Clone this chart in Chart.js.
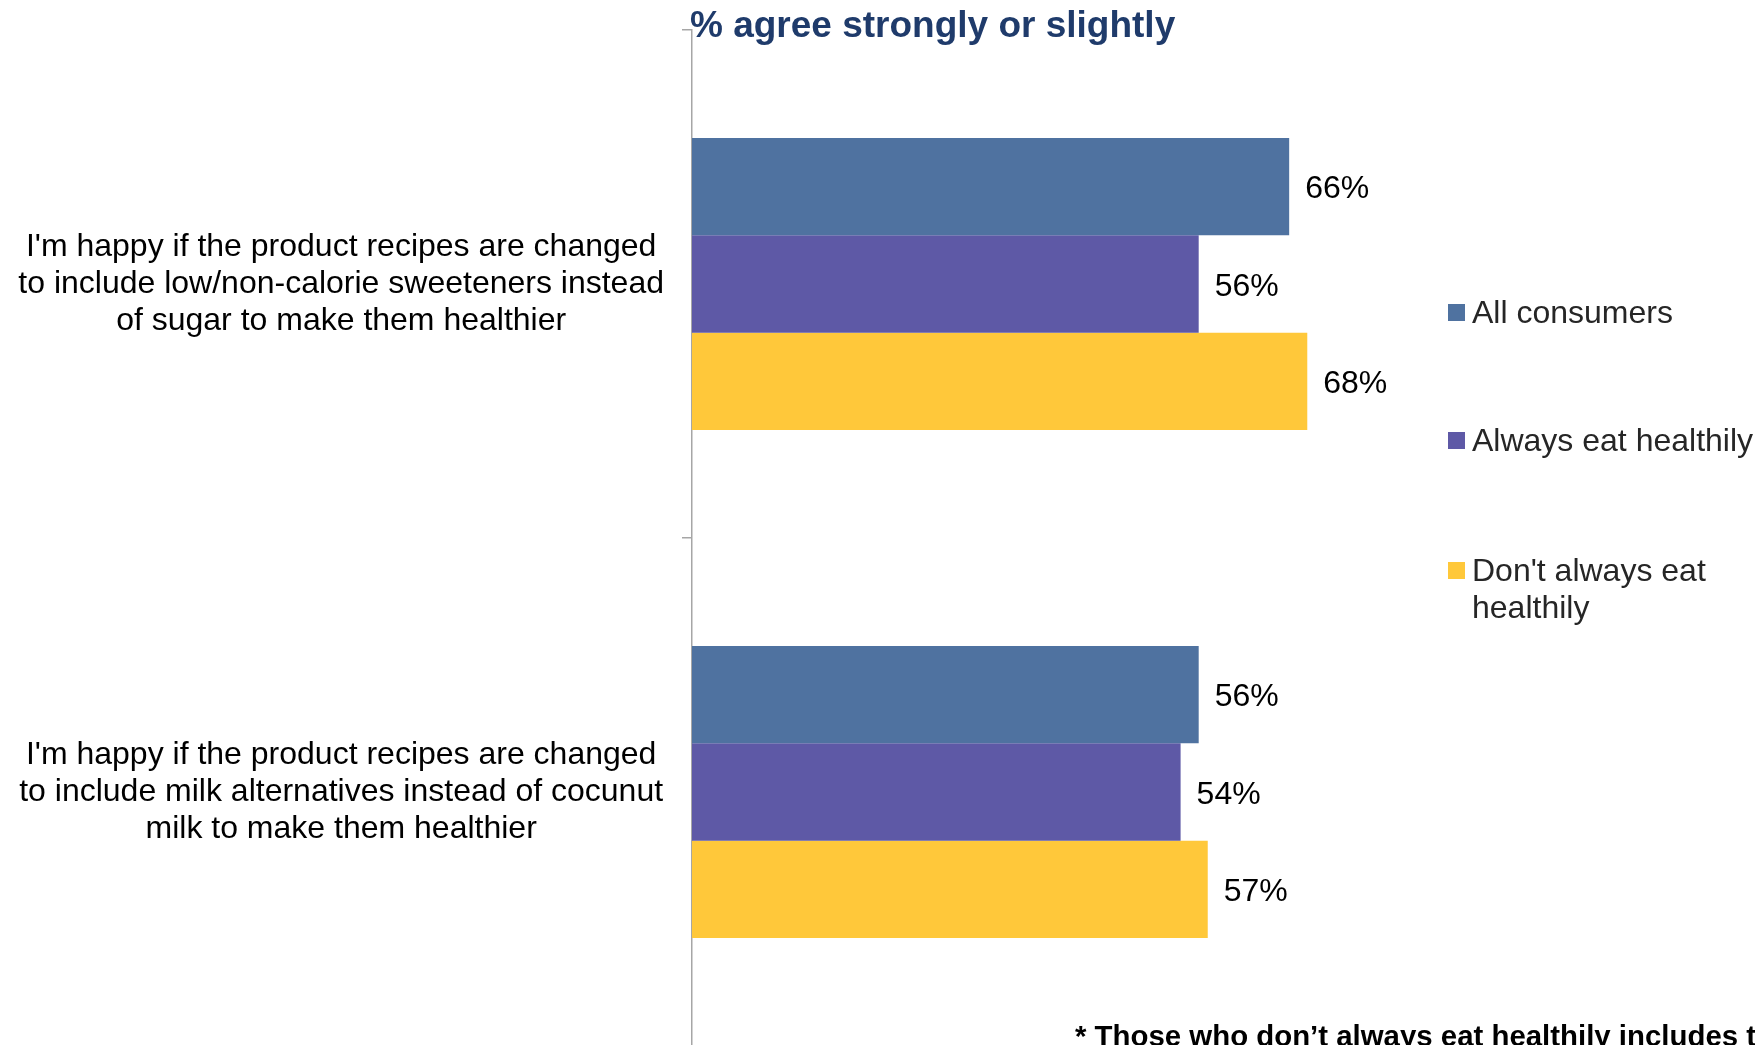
<!DOCTYPE html>
<html>
<head>
<meta charset="utf-8">
<script src="https://cdn.jsdelivr.net/npm/chart.js@4.4.1/dist/chart.umd.min.js"></script>
<style>
  html, body { margin:0; padding:0; background:#fff; overflow:hidden; }
  #wrap { position:relative; width:1755px; height:1045px; overflow:hidden; }
  #c { position:absolute; left:0; top:0; }
  .title { position:absolute; left:690px; top:6px; font:bold 37px "Liberation Sans", Arial, sans-serif; color:#1F3B6B; line-height:1; white-space:nowrap; }
  .note { position:absolute; left:1075px; top:1021px; font:bold 29.4px "Liberation Sans", Arial, sans-serif; color:#000; line-height:1; white-space:nowrap; }
  .leg { position:absolute; left:1448px; font:32px "Liberation Sans", Arial, sans-serif; color:#262626; line-height:37px; }
  .leg i { position:absolute; left:0; top:10px; width:17px; height:17px; }
  .leg span { display:block; margin-left:24px; white-space:nowrap; }
</style>
</head>
<body>
<div id="wrap">
  <canvas id="c" width="1755" height="1046"></canvas>
  <div class="title">% agree strongly or slightly</div>
  <div id="legend"></div>
  <div class="note">* Those who don’t always eat healthily includes those</div>
</div>
<script>
// ── Data ─────────────────────────────────────────────────────────────────────
const categories = [
  ["I'm happy if the product recipes are changed", "to include low/non-calorie sweeteners instead", "of sugar to make them healthier"],
  ["I'm happy if the product recipes are changed", "to include milk alternatives instead of cocunut", "milk to make them healthier"]
];
const seriesNames  = ['All consumers', 'Always eat healthily', ["Don't always eat", 'healthily']];
const seriesColors = ['#4F72A0', '#5E59A6', '#FFC83A'];
const allConsumers = [66, 56];
const alwaysHealthy = [56, 54];
const notAlways     = [68, 57];
const seriesValues  = [allConsumers, alwaysHealthy, notAlways];

// ── Legend (html) ────────────────────────────────────────────────────────────
const legTops = [294, 422, 552];
const legEl = document.getElementById('legend');
seriesNames.forEach((n, i) => {
  const d = document.createElement('div');
  d.className = 'leg';
  d.style.top = legTops[i] + 'px';
  const lines = Array.isArray(n) ? n : [n];
  d.innerHTML = `<i style="background:${seriesColors[i]}"></i>` + lines.map(l => `<span>${l}</span>`).join('');
  legEl.appendChild(d);
});

// ── Value labels plugin ──────────────────────────────────────────────────────
const valueLabels = {
  id: 'valueLabels',
  afterDatasetsDraw(chart) {
    const ctx = chart.ctx;
    ctx.save();
    ctx.font = '32px "Liberation Sans", Arial, sans-serif';
    ctx.fillStyle = '#000';
    ctx.textAlign = 'left';
    ctx.textBaseline = 'middle';
    chart.data.datasets.forEach((ds, di) => {
      chart.getDatasetMeta(di).data.forEach((bar, i) => {
        ctx.fillText(ds.data[i] + '%', bar.x + 16, bar.y + 3);
      });
    });
    ctx.restore();
  }
};

// ── Chart ────────────────────────────────────────────────────────────────────
new Chart(document.getElementById('c').getContext('2d'), {
  type: 'bar',
  data: {
    labels: categories,
    datasets: seriesValues.map((v, i) => ({
      label: Array.isArray(seriesNames[i]) ? seriesNames[i].join(' ') : seriesNames[i],
      data: v,
      backgroundColor: seriesColors[i],
      categoryPercentage: 0.575,
      barPercentage: 1.0,
      borderWidth: 0
    }))
  },
  options: {
    indexAxis: 'y',
    responsive: false,
    animation: false,
    layout: { padding: { top: 30, right: 160, bottom: 0, left: 0 } },
    plugins: { legend: { display: false }, tooltip: { enabled: false } },
    scales: {
      x: { display: false, min: 0, max: 99.8 },
      y: {
        afterFit(scale) { scale.width = 692; scale.paddingTop = 0; scale.paddingBottom = 0; },
        border: { color: '#A6A6A6', width: 1.5 },
        grid: { drawOnChartArea: false, drawTicks: true, tickLength: 10, color: '#A6A6A6', lineWidth: 1.5 },
        ticks: {
          crossAlign: 'center',
          padding: 18,
          color: '#000',
          font: { family: '"Liberation Sans", Arial, sans-serif', size: 32, lineHeight: 1.15 }
        }
      }
    }
  },
  plugins: [valueLabels]
});
</script>
</body>
</html>
